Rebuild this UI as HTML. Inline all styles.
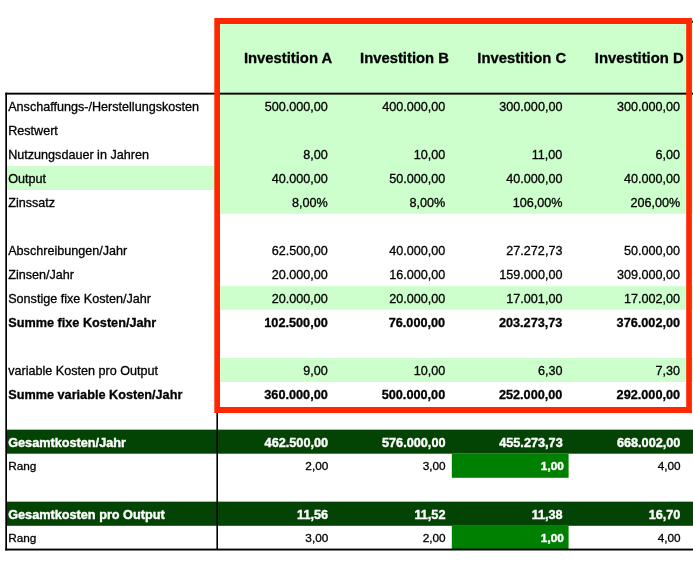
<!DOCTYPE html>
<html lang="de"><head><meta charset="utf-8"><title>Kostenvergleichsrechnung</title>
<style>
html,body{margin:0;padding:0;background:#fff;}
body{width:693px;height:561px;overflow:hidden;}
svg{display:block;position:absolute;left:0;top:0;font-family:"Liberation Sans",sans-serif;font-size:12.6px;fill:#000;}
text{stroke:#000;stroke-width:0.3px;}
.n{text-anchor:end;}
.b{font-weight:bold;font-size:12.7px;}
.w{fill:#fff;stroke:#fff;stroke-width:0.4px;}
.r{font-size:11.8px;}
.h{font-size:14.8px;font-weight:bold;text-anchor:end;}
</style></head><body>
<svg width="693" height="561" viewBox="0 0 693 561">
<rect x="217" y="20" width="476" height="193.8" fill="#ccffcc"/>
<rect x="7" y="166" width="210" height="24" fill="#ccffcc"/>
<rect x="217" y="286.2" width="476" height="23.6" fill="#ccffcc"/>
<rect x="217" y="357.9" width="476" height="24.1" fill="#ccffcc"/>
<rect x="6" y="429.65" width="687" height="24.05" fill="#034303"/>
<rect x="6" y="501.65" width="687" height="24.15" fill="#034303"/>
<rect x="451.8" y="453.7" width="116.8" height="24.1" fill="#008000"/>
<rect x="451.8" y="525.8" width="116.8" height="23.2" fill="#008000"/>
<rect x="5.3" y="92.7" width="687.7" height="1.9" fill="#000"/>
<rect x="5.3" y="92.7" width="1.7" height="457.8" fill="#000"/>
<rect x="5.3" y="548.6" width="687.7" height="1.9" fill="#000"/>
<rect x="216.4" y="20" width="1.6" height="530" fill="#000"/>
<rect x="692.2" y="20.6" width="0.8" height="2.3" fill="#000"/>
<path fill="#ff2600" fill-rule="evenodd" d="M214.3 18.1H691.9V412.95H214.3Z M220.0 24.05H686.2V406.9H220.0Z"/>
<text class="h" x="332.2" y="63">Investition A</text>
<text class="h" x="448.9" y="63">Investition B</text>
<text class="h" x="566.1" y="63">Investition C</text>
<text class="h" x="683.6" y="63">Investition D</text>
<text class="" x="8.2" y="111">Anschaffungs-/Herstellungskosten</text>
<text class="n" x="327.8" y="111">500.000,00</text>
<text class="n" x="445.2" y="111">400.000,00</text>
<text class="n" x="562.4" y="111">300.000,00</text>
<text class="n" x="680.1" y="111">300.000,00</text>
<text class="" x="8.2" y="135">Restwert</text>
<text class="" x="8.2" y="159">Nutzungsdauer in Jahren</text>
<text class="n" x="327.8" y="159">8,00</text>
<text class="n" x="445.2" y="159">10,00</text>
<text class="n" x="562.4" y="159">11,00</text>
<text class="n" x="680.1" y="159">6,00</text>
<text class="" x="8.2" y="183">Output</text>
<text class="n" x="327.8" y="183">40.000,00</text>
<text class="n" x="445.2" y="183">50.000,00</text>
<text class="n" x="562.4" y="183">40.000,00</text>
<text class="n" x="680.1" y="183">40.000,00</text>
<text class="" x="8.2" y="207">Zinssatz</text>
<text class="n" x="327.8" y="207">8,00%</text>
<text class="n" x="445.2" y="207">8,00%</text>
<text class="n" x="562.4" y="207">106,00%</text>
<text class="n" x="680.1" y="207">206,00%</text>
<text class="" x="8.2" y="255">Abschreibungen/Jahr</text>
<text class="n" x="327.8" y="255">62.500,00</text>
<text class="n" x="445.2" y="255">40.000,00</text>
<text class="n" x="562.4" y="255">27.272,73</text>
<text class="n" x="680.1" y="255">50.000,00</text>
<text class="" x="8.2" y="279">Zinsen/Jahr</text>
<text class="n" x="327.8" y="279">20.000,00</text>
<text class="n" x="445.2" y="279">16.000,00</text>
<text class="n" x="562.4" y="279">159.000,00</text>
<text class="n" x="680.1" y="279">309.000,00</text>
<text class="" x="8.2" y="303">Sonstige fixe Kosten/Jahr</text>
<text class="n" x="327.8" y="303">20.000,00</text>
<text class="n" x="445.2" y="303">20.000,00</text>
<text class="n" x="562.4" y="303">17.001,00</text>
<text class="n" x="680.1" y="303">17.002,00</text>
<text class="b" x="8.2" y="327">Summe fixe Kosten/Jahr</text>
<text class="n b" x="327.8" y="327">102.500,00</text>
<text class="n b" x="445.2" y="327">76.000,00</text>
<text class="n b" x="562.4" y="327">203.273,73</text>
<text class="n b" x="680.1" y="327">376.002,00</text>
<text class="" x="8.2" y="375">variable Kosten pro Output</text>
<text class="n" x="327.8" y="375">9,00</text>
<text class="n" x="445.2" y="375">10,00</text>
<text class="n" x="562.4" y="375">6,30</text>
<text class="n" x="680.1" y="375">7,30</text>
<text class="b" x="8.2" y="399">Summe variable Kosten/Jahr</text>
<text class="n b" x="327.8" y="399">360.000,00</text>
<text class="n b" x="445.2" y="399">500.000,00</text>
<text class="n b" x="562.4" y="399">252.000,00</text>
<text class="n b" x="680.1" y="399">292.000,00</text>
<text class="b w" x="8.2" y="447">Gesamtkosten/Jahr</text>
<text class="n b w" x="328.1" y="447">462.500,00</text>
<text class="n b w" x="445.5" y="447">576.000,00</text>
<text class="n b w" x="562.7" y="447">455.273,73</text>
<text class="n b w" x="680.4" y="447">668.002,00</text>
<text class="r" x="8.2" y="470">Rang</text>
<text class="n r" x="328.3" y="470">2,00</text>
<text class="n r" x="445.7" y="470">3,00</text>
<text class="n r b w" x="563.8" y="470">1,00</text>
<text class="n r" x="680.6" y="470">4,00</text>
<text class="b w" x="8.2" y="519">Gesamtkosten pro Output</text>
<text class="n b w" x="328.1" y="519">11,56</text>
<text class="n b w" x="445.5" y="519">11,52</text>
<text class="n b w" x="562.7" y="519">11,38</text>
<text class="n b w" x="680.4" y="519">16,70</text>
<text class="r" x="8.2" y="542">Rang</text>
<text class="n r" x="328.3" y="542">3,00</text>
<text class="n r" x="445.7" y="542">2,00</text>
<text class="n r b w" x="563.8" y="542">1,00</text>
<text class="n r" x="680.6" y="542">4,00</text>
</svg>
</body></html>
